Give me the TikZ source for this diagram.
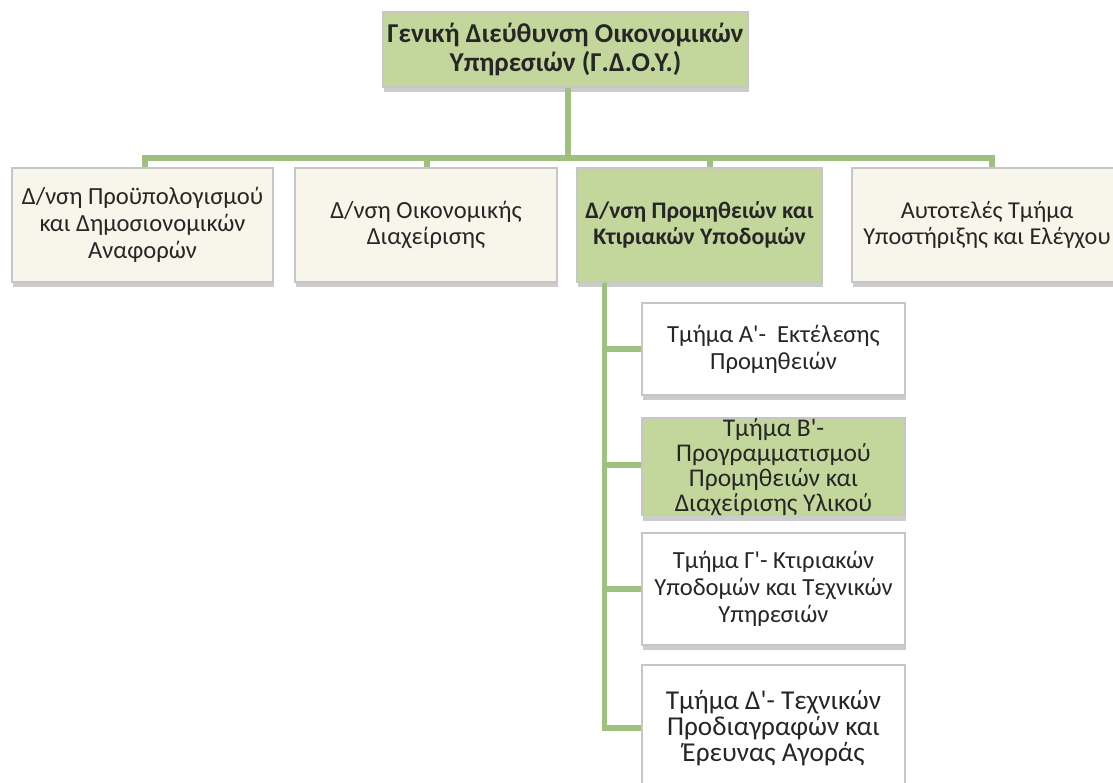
\documentclass[tikz,border=0pt]{standalone}
\usepackage{fontspec}
\setmainfont{Carlito}
\usepackage{xcolor}
\usetikzlibrary{positioning, shadows}
\definecolor{boxgreen}{HTML}{C3D69B}
\definecolor{boxcream}{HTML}{F8F6EA}
\definecolor{linkgreen}{HTML}{A0C080}
\definecolor{textgray}{HTML}{262626}
\newcommand{\apo}{\textquotesingle}
\tikzset{
  unit box/.style={
    draw=gray!45, line width=0.8pt, align=center,
    font=\fontsize{14}{15.2}\selectfont, text=textgray,
    inner sep=1pt,
    drop shadow={shadow xshift=0.5pt, shadow yshift=-3pt, opacity=0.4}
  },
  head/.style={unit box, fill=boxgreen},
  dept/.style={unit box, fill=boxcream},
  sub/.style={unit box, fill=white},
  link/.style={draw=linkgreen, line width=3pt},
}
\begin{document}
\begin{tikzpicture}[x=0.02cm, y=-0.02cm]
  \useasboundingbox (0,0) rectangle (1113,783);

  \node[head, minimum width=7.3cm, minimum height=1.5cm,
        font=\fontsize{15.5}{16.2}\selectfont\bfseries]
                           (gdoy) at (565.5,49.5)
    {Γενική Διεύθυνση Οικονομικών\\Υπηρεσιών (Γ.Δ.Ο.Υ.)};

  \node[dept, minimum width=5.22cm, minimum height=2.28cm]
                           (budget) at (142.5,225)
    {Δ/νση Προϋπολογισμού\\και Δημοσιονομικών\\Αναφορών};
  \node[dept, minimum width=5.24cm, minimum height=2.28cm]
                           (finance) at (426,225)
    {Δ/νση Οικονομικής\\Διαχείρισης};
  \node[head, minimum width=4.9cm, minimum height=2.28cm,
        font=\fontsize{13.5}{15.2}\selectfont\bfseries]
                           (supply) at (699.5,225)
    {Δ/νση Προμηθειών και\\Κτιριακών Υποδομών};
  \node[dept, minimum width=5.4cm, minimum height=2.28cm,
        font=\fontsize{13.8}{15.2}\selectfont]
                           (audit) at (987,225)
    {Αυτοτελές Τμήμα\\Υποστήριξης και Ελέγχου};

  \node[sub, minimum width=5.26cm, minimum height=1.84cm]
                           (secA) at (773.5,349)
    {Τμήμα Α\apo- \ Εκτέλεσης\\Προμηθειών};
  \node[head, minimum width=5.26cm, minimum height=1.8cm, inner ysep=0pt,
        font=\fontsize{14.5}{14.3}\selectfont]
                           (secB) at (773.5,467)
    {Τμήμα Β\apo-\\Προγραμματισμού\\Προμηθειών και\\Διαχείρισης Υλικού};
  \node[sub, minimum width=5.26cm, minimum height=2.24cm]
                           (secC) at (773.5,589)
    {Τμήμα Γ\apo- Κτιριακών\\Υποδομών και Τεχνικών\\Υπηρεσιών};
  \node[sub, minimum width=5.26cm, minimum height=2.52cm,
        font=\fontsize{15.5}{15}\selectfont]
                           (secD) at (773.5,728)
    {Τμήμα Δ\apo- Τεχνικών\\Προδιαγραφών και\\Έρευνας Αγοράς};

  % top level bar
  \coordinate (bar) at (568,158);
  \draw[link] ([xshift=0.05cm]gdoy.south) -- ([xshift=0.05cm]gdoy.south |- bar);
  \draw[link] ([xshift=0.05cm]budget.north) |- (bar) -| ([xshift=0.1cm]audit.north);
  \draw[link] ([xshift=0.02cm]finance.north) -- ([xshift=0.02cm]finance.north |- bar);
  \draw[link] ([xshift=0.21cm]supply.north) -- ([xshift=0.21cm]supply.north |- bar);

  % sections under the supply directorate
  \coordinate (spine) at ([xshift=0.56cm]supply.south west);
  \draw[link] (spine) |- (secD.west);
  \draw[link] (secA.west) -- (secA.west -| spine);
  \draw[link] ([yshift=0.04cm]secB.west) -- ([yshift=0.04cm]secB.west -| spine);
  \draw[link] (secC.west) -- (secC.west -| spine);
\end{tikzpicture}
\end{document}
